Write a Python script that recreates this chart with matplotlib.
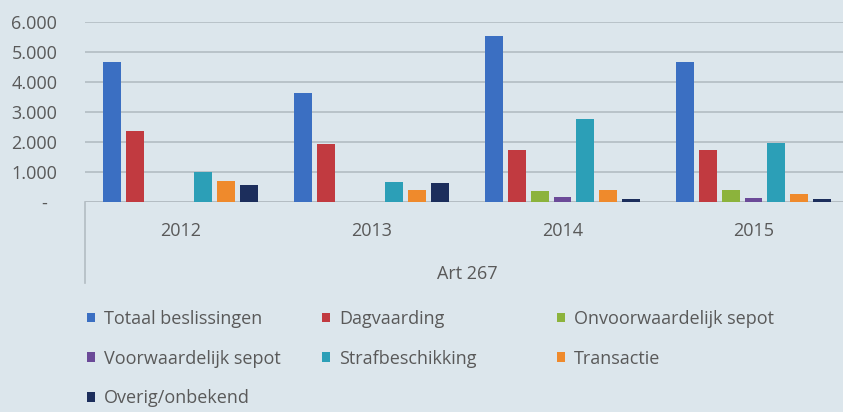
import matplotlib.pyplot as plt
import matplotlib.transforms as mtransforms
from matplotlib.patches import Patch
from matplotlib.ticker import FuncFormatter

# Data (Art 267 decisions per year)
years = ['2012', '2013', '2014', '2015']
series_names = ['Totaal beslissingen', 'Dagvaarding', 'Onvoorwaardelijk sepot',
                'Voorwaardelijk sepot', 'Strafbeschikking', 'Transactie', 'Overig/onbekend']
totaal = [4680, 3640, 5540, 4680]
dagvaarding = [2370, 1920, 1720, 1740]
onvoorwaardelijk = [0, 0, 380, 400]
voorwaardelijk = [0, 0, 180, 120]
strafbeschikking = [1010, 680, 2770, 1980]
transactie = [710, 400, 400, 260]
overig = [570, 640, 90, 90]
y_ticks = [0, 1000, 2000, 3000, 4000, 5000, 6000]

colors = ['#3b6fc2', '#c13a40', '#8cb33c', '#6b4a98', '#2c9fb7', '#ef8a2c', '#1c2e5c']
BG = '#dce6ec'
TEXT = '#595959'
GRID = '#b3bcc2'

plt.rcParams['font.family'] = ['Open Sans', 'DejaVu Sans']

fig = plt.figure(figsize=(8.43, 4.12), dpi=100, facecolor=BG)
ax = fig.add_axes([85 / 843, 1 - 202 / 412, 764 / 843, 180 / 412])
ax.set_facecolor(BG)

all_series = [totaal, dagvaarding, onvoorwaardelijk, voorwaardelijk,
              strafbeschikking, transactie, overig]
pitch = 0.119
width = 0.094
for i, vals in enumerate(all_series):
    xs = [k + (i - 3) * pitch for k in range(len(years))]
    ax.bar(xs, vals, width=width, color=colors[i], zorder=3)

ax.set_xlim(-0.5, 3.5)
ax.set_ylim(0, 6000)
ax.set_yticks(y_ticks)
# accounting style: zero shown as a dash
ax.yaxis.set_major_formatter(FuncFormatter(
    lambda v, p: '-  ' if v == 0 else f'{int(v):,}'.replace(',', '.')))
ax.tick_params(axis='y', length=0, labelsize=13, labelcolor=TEXT, pad=20)
ax.set_xticks([])
ax.grid(axis='y', color=GRID, linewidth=1.2, zorder=0)
for s in ax.spines.values():
    s.set_visible(False)
ax.axhline(0, color=GRID, linewidth=1.2, zorder=2)

# multi-level category axis
trans = mtransforms.blended_transform_factory(ax.transData, ax.transAxes)
for k, yr in enumerate(years):
    ax.text(k, -0.16, yr, transform=trans, ha='center', va='center',
            fontsize=13, color=TEXT)
ax.text(1.5, -0.4, 'Art 267', transform=trans, ha='center', va='center',
        fontsize=13, color=TEXT)
ax.plot([-0.5, -0.5], [0, -0.45], transform=trans, color=GRID,
        linewidth=1.2, clip_on=False)

# legend, laid out row-wise in three columns
columns = [[0, 3, 6], [1, 4], [2, 5]]
col_x = [87 / 843, 322 / 843, 557 / 843]
for cx, idxs in zip(col_x, columns):
    handles = [Patch(facecolor=colors[i]) for i in idxs]
    labels = [series_names[i] for i in idxs]
    fig.legend(handles, labels, loc='upper left', bbox_to_anchor=(cx, 1 - 310 / 412),
               frameon=False, fontsize=13, labelcolor=TEXT,
               handlelength=0.45, handleheight=0.45, handletextpad=0.5,
               labelspacing=1.2, borderaxespad=0, borderpad=0)

fig.savefig('out.png', dpi=100, facecolor=BG)
